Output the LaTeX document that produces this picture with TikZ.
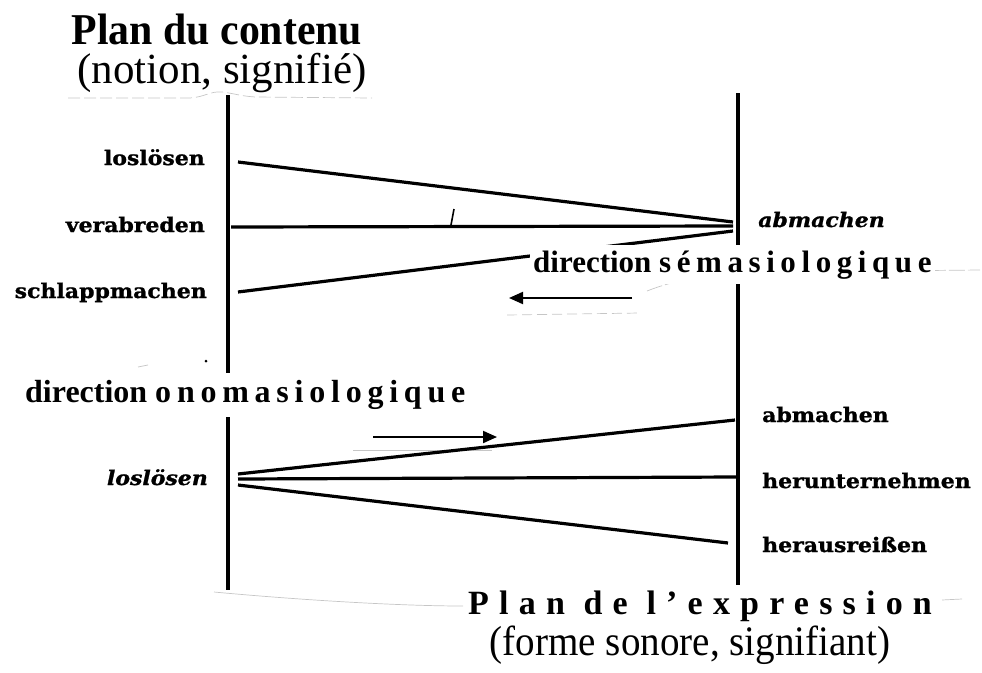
\documentclass[tikz,border=0pt]{standalone}
\usepackage{fontspec}
\setmainfont{Liberation Serif}
\newfontfamily\serf{Liberation Serif}
\newfontfamily\labf[FakeStretch=1.1,FakeBold=1.2,ItalicFont={DejaVu Serif Bold Italic}]{DejaVu Serif Bold}
\newfontfamily\titlef[FakeStretch=0.95]{Liberation Serif}
\newfontfamily\condf[FakeStretch=0.93]{Liberation Serif}
\newfontfamily\spcf[LetterSpace=18]{Liberation Serif}
\newfontfamily\wspcf[LetterSpace=30]{Liberation Serif}
\usetikzlibrary{arrows.meta}
\begin{document}
\begin{tikzpicture}[x=1pt,y=-1pt,
  vline/.style={line width=4.5pt},
  conn/.style={line width=3.2pt},
  arr/.style={line width=2pt,-{Triangle[length=14pt,width=12pt]}},
  faint/.style={gray!45,line width=0.7pt},
  leftlab/.style={anchor=base east,inner sep=0pt,font=\labf\fontsize{20}{22}\selectfont},
  rightlab/.style={anchor=base west,inner sep=0pt,font=\labf\fontsize{20}{22}\selectfont},
  itlab/.style={inner sep=0pt,font=\labf\itshape\fontsize{20}{22}\selectfont},
  dirlab/.style={anchor=base west,fill=white,inner xsep=3pt,inner ysep=5pt}]
\useasboundingbox (0,0) rectangle (982,672);

% titles
\node[anchor=base,inner sep=0pt,font=\titlef\bfseries\fontsize{44}{48}\selectfont] (t1) at (217,44) {Plan du contenu};
\node[anchor=base,inner sep=0pt,font=\serf\fontsize{43}{46}\selectfont] (t1s) at (222,83) {(notion, signifié)};
\node[anchor=base west,inner sep=0pt,font=\wspcf\bfseries\fontsize{34}{38}\selectfont] (t2) at (468,614) {Plan de l’expression};
\node[anchor=base,inner sep=0pt,font=\condf\fontsize{42}{46}\selectfont] (t2s) at (690,655) {(forme sonore, signifiant)};

% faint scan lines
\draw[faint,dash pattern=on 12pt off 4pt] (68,98) -- (190,98) .. controls (205,97) and (210,91) .. (222,92) .. controls (232,93) and (240,96) .. (255,97) -- (372,98);
\draw[faint,dash pattern=on 14pt off 5pt] (25,411) -- (160,412);
\draw[faint] (170,413) -- (347,413);
\draw[faint,dash pattern=on 16pt off 3pt] (647,291) .. controls (680,278) and (720,272) .. (770,272) -- (980,270);
\draw[faint,dash pattern=on 10pt off 5pt] (507,315) -- (640,313);
\draw[faint] (353,450) -- (492,450);
\draw[faint] (214,592) .. controls (300,600) and (400,606) .. (463,606);
\draw[faint] (942,600) -- (962,599);
\draw[faint] (138,367) -- (148,365);
\fill (206,361) circle (1.5pt);

% vertical axes
\draw[vline] (228,95) -- (228,373);
\draw[vline] (228,417) -- (228,590);
\draw[vline] (738,93) -- (738,585);

% upper group
\node[leftlab] (u1) at (205,165) {loslösen};
\node[leftlab] (u2) at (205,232) {verabreden};
\node[leftlab] (u3) at (207,298) {schlappmachen};
\node[itlab,anchor=base west] (ua) at (758,227) {abmachen};
\coordinate (u1s) at (238,162);
\coordinate (u2s) at (231,227);
\coordinate (u3s) at (238,292);
\coordinate (ua1) at (733,222);
\coordinate (ua2) at (733,226);
\coordinate (ua3) at (733,231);
\draw[conn] (u1s) -- (ua1);
\draw[conn] (u2s) -- (ua2);
\draw[conn] (u3s) -- (ua3);
\coordinate (tk1) at (454,209);
\coordinate (tk2) at (451,225);
\draw[line width=1.6pt] (tk1) -- (tk2);

\node[dirlab,font=\serf\bfseries\fontsize{31}{34}\selectfont] (ds) at (530,272) {direction {\spcf sémasiologique}};
\coordinate (a1s) at (632,298);
\coordinate (a1e) at (509,298);
\draw[arr] (a1s) -- (a1e);

% lower group
\node[dirlab,font=\serf\bfseries\fontsize{32}{35}\selectfont] (do) at (22,402) {direction {\spcf onomasiologique}};
\coordinate (a2s) at (373,437);
\coordinate (a2e) at (497,437);
\draw[arr] (a2s) -- (a2e);

\node[itlab,anchor=base east] (ll) at (208,485) {loslösen};
\node[rightlab] (r1) at (762,422) {abmachen};
\node[rightlab] (r2) at (762,488) {herunternehmen};
\node[rightlab] (r3) at (762,552) {herausreißen};
\coordinate (l1s) at (238,474);
\coordinate (l2s) at (238,479);
\coordinate (l3s) at (238,485);
\coordinate (r1e) at (735,420);
\coordinate (r2e) at (737,477);
\coordinate (r3e) at (728,543);
\draw[conn] (l1s) -- (r1e);
\draw[conn] (l2s) -- (r2e);
\draw[conn] (l3s) -- (r3e);
\end{tikzpicture}
\end{document}
